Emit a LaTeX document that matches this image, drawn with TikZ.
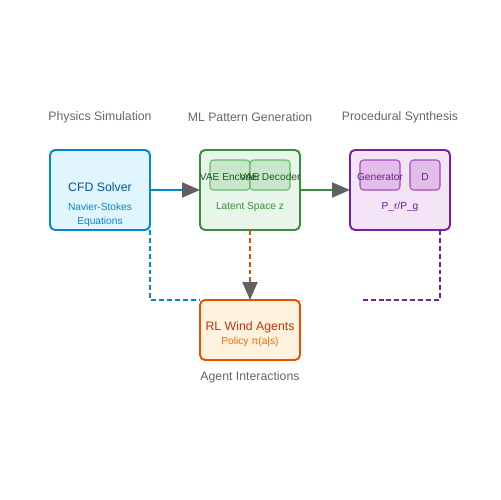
\documentclass[tikz,border=0pt]{standalone}
\usepackage{fontspec}
\setmainfont{Liberation Sans}
\usetikzlibrary{arrows.meta,positioning}
\definecolor{cfdfill}{HTML}{E1F5FE}
\definecolor{cfdline}{HTML}{0288D1}
\definecolor{cfdtext}{HTML}{01579B}
\definecolor{mlfill}{HTML}{E8F5E9}
\definecolor{mlline}{HTML}{388E3C}
\definecolor{vaefill}{HTML}{C8E6C9}
\definecolor{vaeline}{HTML}{66BB6A}
\definecolor{vaetext}{HTML}{1B5E20}
\definecolor{synfill}{HTML}{F3E5F5}
\definecolor{synline}{HTML}{7B1FA2}
\definecolor{ganfill}{HTML}{E1BEE7}
\definecolor{ganline}{HTML}{AB47BC}
\definecolor{gantext}{HTML}{6A1B9A}
\definecolor{rlfill}{HTML}{FFF3E0}
\definecolor{rlline}{HTML}{E65100}
\definecolor{rltext}{HTML}{BF360C}
\definecolor{rlsub}{HTML}{EF6C00}
\definecolor{titlegray}{HTML}{666666}
\definecolor{tipgray}{HTML}{616161}

\begin{document}
\begin{tikzpicture}[x=0.02cm,y=-0.02cm,
        box/.style={draw,rounded corners=0.1cm,line width=1.1pt,minimum width=2cm,minimum height=1.6cm,inner sep=0pt,outer sep=0pt},
        inbox/.style={draw,rounded corners=0.07cm,line width=0.6pt,minimum width=0.8cm,minimum height=0.6cm,inner sep=0pt},
        title/.style={text=titlegray,font=\fontsize{7}{8}\selectfont},
        big/.style={font=\fontsize{7}{8}\selectfont},
        small/.style={font=\fontsize{5.8}{7}\selectfont},
        flow/.style={line width=1.1pt,-{Triangle[length=0.36cm,width=0.3cm,color=tipgray]}},
        link/.style={line width=1.1pt,dash pattern=on 2.8pt off 1.7pt}]
    \path[use as bounding box] (0,0) rectangle (500,500);
    \node[box,fill=cfdfill,draw=cfdline] (cfd) at (100,190) {};
    \node[box,fill=mlfill,draw=mlline] (ml) at (250,190) {};
    \node[box,fill=synfill,draw=synline] (syn) at (400,190) {};
    \node[box,fill=rlfill,draw=rlline,minimum height=1.2cm] (rl) at (250,330) {};
    \node[inbox,fill=vaefill,draw=vaeline] (enc) at (230,175) {};
    \node[inbox,fill=vaefill,draw=vaeline] (dec) at (270,175) {};
    \node[inbox,fill=ganfill,draw=ganline] (gen) at (380,175) {};
    \node[inbox,fill=ganfill,draw=ganline,minimum width=0.6cm] (dis) at (425,175) {};
    \node[title] (tphys) at (100,117) {Physics Simulation};
    \node[title] (tml) at (250,117) {ML Pattern Generation};
    \node[title] (tsyn) at (400,117) {Procedural Synthesis};
    \node[title] (tagent) at (250,377) {Agent Interactions};
    \node[big,text=cfdtext] (lcfd) at (100,187) {CFD Solver};
    \node[small,text=cfdline] (lns) at (100,207) {Navier-Stokes};
    \node[small,text=cfdline] (leq) at (100,222) {Equations};
    \node[small,text=vaetext] (lenc) at (230,177) {VAE Encoder};
    \node[small,text=vaetext] (ldec) at (270,177) {VAE Decoder};
    \node[small,text=mlline] (llat) at (250,207) {Latent Space z};
    \node[small,text=gantext] (lgen) at (380,177) {Generator};
    \node[small,text=gantext] (ldis) at (425,177) {D};
    \node[small,text=gantext] (lpr) at (400,207) {P\_r/P\_g};
    \node[big,text=rltext] (lrl) at (250,327) {RL Wind Agents};
    \node[small,text=rlsub] (lpol) at (250,342) {Policy π(a|s)};
    \coordinate (pstart) at (440,230);
    \coordinate (pend) at (360,300);
    \draw[flow,cfdline] (cfd.east) -- (ml.west);
    \draw[flow,mlline] (ml.east) -- (syn.west);
    \draw[flow,link,rlline] (ml.south) -- (rl.north);
    \draw[link,cfdline] (cfd.south east) |- (rl.north west);
    \draw[link,synline] (pstart) |- (pend);
\end{tikzpicture}
\end{document}
